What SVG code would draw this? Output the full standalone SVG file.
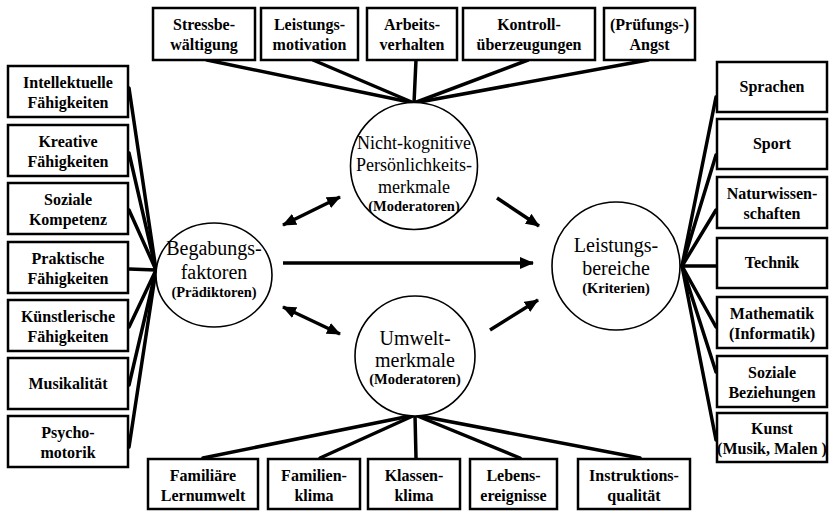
<svg xmlns="http://www.w3.org/2000/svg" width="829" height="511" viewBox="0 0 829 511">
<style>
.box{fill:#fff;stroke:#000;stroke-width:2.5}
.circ{fill:#fff;stroke:#000;stroke-width:1.6}
.con{stroke:#000;stroke-width:3.5;fill:none;stroke-linecap:round}
.arr{stroke:#000;stroke-width:3.5;fill:none}
text{font-family:"Liberation Serif","Times New Roman",serif;fill:#000;text-anchor:middle}
.t{font-size:16px;font-weight:bold}
.big{font-size:20px}
.mid{font-size:18px}
.sub{font-size:14.5px;font-weight:bold}
</style>
<defs>
<marker id="ah" markerUnits="userSpaceOnUse" markerWidth="14" markerHeight="12" viewBox="0 0 14 12" refX="13" refY="6" orient="auto-start-reverse">
<path d="M0,0 L14,6 L0,12 Z" fill="#000"/>
</marker>
</defs>
<g id="connectors">
<line class="con" x1="207" y1="60" x2="414" y2="103"/>
<line class="con" x1="313" y1="60" x2="414" y2="103"/>
<line class="con" x1="416" y1="60" x2="414" y2="103"/>
<line class="con" x1="528" y1="60" x2="414" y2="103"/>
<line class="con" x1="648" y1="60" x2="414" y2="103"/>
<line class="con" x1="129" y1="88" x2="156" y2="270"/>
<line class="con" x1="129" y1="153" x2="156" y2="270"/>
<line class="con" x1="129" y1="210" x2="156" y2="270"/>
<line class="con" x1="129" y1="269" x2="156" y2="270"/>
<line class="con" x1="129" y1="327" x2="156" y2="270"/>
<line class="con" x1="129" y1="385" x2="156" y2="270"/>
<line class="con" x1="129" y1="447" x2="156" y2="270"/>
<line class="con" x1="716" y1="97" x2="682" y2="266"/>
<line class="con" x1="716" y1="155" x2="682" y2="266"/>
<line class="con" x1="716" y1="210" x2="682" y2="266"/>
<line class="con" x1="716" y1="266" x2="682" y2="266"/>
<line class="con" x1="716" y1="327" x2="682" y2="266"/>
<line class="con" x1="716" y1="372" x2="682" y2="266"/>
<line class="con" x1="716" y1="440" x2="682" y2="266"/>
<line class="con" x1="203" y1="458" x2="415" y2="415"/>
<line class="con" x1="320" y1="458" x2="415" y2="415"/>
<line class="con" x1="416" y1="458" x2="415" y2="415"/>
<line class="con" x1="520" y1="458" x2="415" y2="415"/>
<line class="con" x1="640" y1="458" x2="415" y2="415"/>
<line class="arr" x1="283" y1="225" x2="340" y2="197" marker-start="url(#ah)" marker-end="url(#ah)"/>
<line class="arr" x1="283" y1="307" x2="340" y2="334" marker-start="url(#ah)" marker-end="url(#ah)"/>
<line class="arr" x1="283" y1="263" x2="533" y2="263" marker-end="url(#ah)"/>
<line class="arr" x1="497" y1="198" x2="539" y2="226" marker-end="url(#ah)"/>
<line class="arr" x1="490" y1="330" x2="538" y2="300" marker-end="url(#ah)"/>
</g>
<g id="n_stress"><rect class="box" x="153" y="8" width="102" height="52"/><text class="t" x="204" y="30">Stressbe-</text><text class="t" x="204" y="50">wältigung</text></g>
<g id="n_leistmot"><rect class="box" x="261" y="8" width="97" height="52"/><text class="t" x="309.5" y="30">Leistungs-</text><text class="t" x="309.5" y="50">motivation</text></g>
<g id="n_arbeit"><rect class="box" x="367" y="8" width="90" height="52"/><text class="t" x="412" y="30">Arbeits-</text><text class="t" x="412" y="50">verhalten</text></g>
<g id="n_kontroll"><rect class="box" x="463" y="8" width="132" height="52"/><text class="t" x="529" y="30">Kontroll-</text><text class="t" x="529" y="50">überzeugungen</text></g>
<g id="n_angst"><rect class="box" x="604" y="8" width="91" height="52"/><text class="t" x="649.5" y="30">(Prüfungs-)</text><text class="t" x="649.5" y="50">Angst</text></g>

<g id="n_intell"><rect class="box" x="8" y="66" width="120" height="51"/><text class="t" x="68" y="88">Intellektuelle</text><text class="t" x="68" y="108">Fähigkeiten</text></g>
<g id="n_kreativ"><rect class="box" x="8" y="125" width="120" height="51"/><text class="t" x="68" y="147">Kreative</text><text class="t" x="68" y="167">Fähigkeiten</text></g>
<g id="n_sozial"><rect class="box" x="8" y="183" width="120" height="51"/><text class="t" x="68" y="205">Soziale</text><text class="t" x="68" y="225">Kompetenz</text></g>
<g id="n_prakt"><rect class="box" x="8" y="242" width="120" height="51"/><text class="t" x="68" y="264">Praktische</text><text class="t" x="68" y="284">Fähigkeiten</text></g>
<g id="n_kuenstl"><rect class="box" x="8" y="300" width="120" height="51"/><text class="t" x="68" y="322">Künstlerische</text><text class="t" x="68" y="342">Fähigkeiten</text></g>
<g id="n_musik"><rect class="box" x="8" y="358" width="120" height="51"/><text class="t" x="68" y="389">Musikalität</text></g>
<g id="n_psycho"><rect class="box" x="8" y="416" width="120" height="51"/><text class="t" x="68" y="438">Psycho-</text><text class="t" x="68" y="458">motorik</text></g>

<g id="n_sprachen"><rect class="box" x="717" y="62" width="110" height="50"/><text class="t" x="772" y="92">Sprachen</text></g>
<g id="n_sport"><rect class="box" x="717" y="119" width="110" height="50"/><text class="t" x="772" y="149">Sport</text></g>
<g id="n_natur"><rect class="box" x="717" y="177" width="110" height="51"/><text class="t" x="772" y="199">Naturwissen-</text><text class="t" x="772" y="219">schaften</text></g>
<g id="n_technik"><rect class="box" x="717" y="238" width="110" height="50"/><text class="t" x="772" y="268">Technik</text></g>
<g id="n_mathe"><rect class="box" x="717" y="297" width="110" height="51"/><text class="t" x="772" y="319">Mathematik</text><text class="t" x="772" y="339">(Informatik)</text></g>
<g id="n_sozbez"><rect class="box" x="717" y="356" width="110" height="51"/><text class="t" x="772" y="378">Soziale</text><text class="t" x="772" y="398">Beziehungen</text></g>
<g id="n_kunst"><rect class="box" x="717" y="413" width="110" height="49"/><text class="t" x="772" y="434">Kunst</text><text class="t" x="772" y="454">(Musik, Malen )</text></g>

<g id="n_famlern"><rect class="box" x="148" y="459" width="110" height="50"/><text class="t" x="203" y="481">Familiäre</text><text class="t" x="203" y="501">Lernumwelt</text></g>
<g id="n_famklima"><rect class="box" x="268" y="459" width="92" height="50"/><text class="t" x="314" y="481">Familien-</text><text class="t" x="314" y="501">klima</text></g>
<g id="n_klassen"><rect class="box" x="368" y="459" width="92" height="50"/><text class="t" x="414" y="481">Klassen-</text><text class="t" x="414" y="501">klima</text></g>
<g id="n_lebens"><rect class="box" x="470" y="459" width="87" height="50"/><text class="t" x="513.5" y="481">Lebens-</text><text class="t" x="513.5" y="501">ereignisse</text></g>
<g id="n_instr"><rect class="box" x="578" y="459" width="112" height="50"/><text class="t" x="634" y="481">Instruktions-</text><text class="t" x="634" y="501">qualität</text></g>

<g id="n_nichtkog"><circle class="circ" cx="414" cy="166" r="63.5"/><text class="mid" x="414" y="149">Nicht-kognitive</text><text class="mid" x="414" y="171">Persönlichkeits-</text><text class="mid" x="414" y="193">merkmale</text><text class="sub" x="414" y="211">(Moderatoren)</text></g>
<g id="n_begabung"><ellipse class="circ" cx="214" cy="275" rx="58" ry="52"/><text class="big" x="214" y="255">Begabungs-</text><text class="big" x="214" y="279">faktoren</text><text class="sub" x="214" y="297">(Prädiktoren)</text></g>
<g id="n_leistung"><circle class="circ" cx="616" cy="266" r="64"/><text class="big" x="616" y="252">Leistungs-</text><text class="big" x="616" y="275">bereiche</text><text class="sub" x="616" y="293">(Kriterien)</text></g>
<g id="n_umwelt"><circle class="circ" cx="415" cy="356" r="60"/><text class="big" x="415" y="345">Umwelt-</text><text class="big" x="415" y="367">merkmale</text><text class="sub" x="415" y="384">(Moderatoren)</text></g>
</svg>
